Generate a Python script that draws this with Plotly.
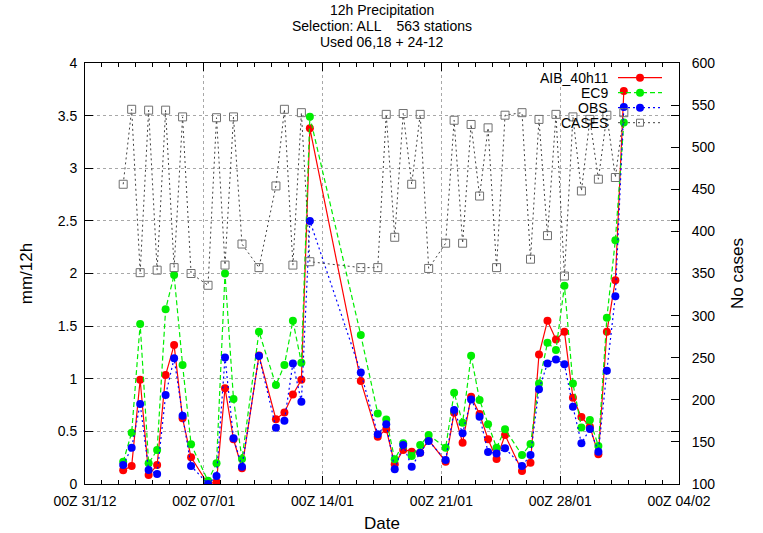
import plotly.graph_objects as go

# ---------------- data ----------------
times = [
    "2008-01-02 06:00", "2008-01-02 18:00", "2008-01-03 06:00", "2008-01-03 18:00",
    "2008-01-04 06:00", "2008-01-04 18:00", "2008-01-05 06:00", "2008-01-05 18:00",
    "2008-01-06 06:00", "2008-01-07 06:00", "2008-01-07 18:00", "2008-01-08 06:00",
    "2008-01-08 18:00", "2008-01-09 06:00", "2008-01-10 06:00", "2008-01-11 06:00",
    "2008-01-11 18:00", "2008-01-12 06:00", "2008-01-12 18:00", "2008-01-13 06:00",
    "2008-01-16 06:00", "2008-01-17 06:00", "2008-01-17 18:00", "2008-01-18 06:00",
    "2008-01-18 18:00", "2008-01-19 06:00", "2008-01-19 18:00", "2008-01-20 06:00",
    "2008-01-21 06:00", "2008-01-21 18:00", "2008-01-22 06:00", "2008-01-22 18:00",
    "2008-01-23 06:00", "2008-01-23 18:00", "2008-01-24 06:00", "2008-01-24 18:00",
    "2008-01-25 18:00", "2008-01-26 06:00", "2008-01-26 18:00", "2008-01-27 06:00",
    "2008-01-27 18:00", "2008-01-28 06:00", "2008-01-28 18:00", "2008-01-29 06:00",
    "2008-01-29 18:00", "2008-01-30 06:00", "2008-01-30 18:00", "2008-01-31 06:00",
    "2008-01-31 18:00",
]

aib_40h11 = [0.13, 0.17, 0.99, 0.085, 0.18, 1.035, 1.32, 0.624, 0.254,
             0.0, 0.02, 0.91, 0.425, 0.15, 1.22, 0.615, 0.68, 0.85, 0.99, 3.38,
             0.978, 0.45, 0.52, 0.187, 0.323, 0.307, 0.298, 0.418,
             0.212, 0.677, 0.392, 0.83, 0.665, 0.425, 0.237, 0.465,
             0.123, 0.202, 1.23, 1.55, 1.374, 1.446, 0.82, 0.636, 0.545, 0.282,
             1.446, 1.937, 3.735]

ec9 = [0.212, 0.488, 1.52, 0.197, 0.323, 1.66, 1.985, 1.13, 0.377,
       0.03, 0.197, 2.0, 0.807, 0.237, 1.446, 0.94, 1.13, 1.55, 1.152, 3.49,
       1.415, 0.671, 0.614, 0.234, 0.386, 0.266, 0.37, 0.465,
       0.345, 0.867, 0.582, 1.218, 0.798, 0.567, 0.345, 0.52,
       0.275, 0.38, 0.956, 1.342, 1.273, 1.883, 0.956, 0.538, 0.608, 0.361,
       1.58, 2.317, 3.435]

obs = [0.18, 0.345, 0.76, 0.133, 0.095, 0.845, 1.194, 0.649, 0.171,
       0.0, 0.076, 1.203, 0.434, 0.165, 1.216, 0.535, 0.6, 1.146, 0.782, 2.5,
       1.06, 0.472, 0.567, 0.139, 0.37, 0.165, 0.298, 0.408,
       0.228, 0.703, 0.481, 0.804, 0.64, 0.303, 0.29, 0.339,
       0.171, 0.275, 0.9, 1.146, 1.184, 1.137, 0.734, 0.386, 0.522, 0.307,
       1.076, 1.785, 3.583]

cases = [456, 545, 351, 544, 354, 544, 357, 536, 350,
         336, 535, 360, 536, 385, 357, 454, 545, 360, 541, 364,
         357, 357, 539, 393, 540, 456, 539, 356,
         386, 532, 386, 527, 442, 523, 357, 538,
         541, 367, 533, 395, 539, 347, 536, 448, 533, 462, 538, 464, 541]

series_names = ["AIB_40h11", "EC9", "OBS", "CASES"]
title_lines = ["12h Precipitation", "Selection: ALL    563 stations", "Used 06,18 + 24-12"]
x_start, x_end = "2007-12-31", "2008-02-04"

# ---------------- styles ----------------
FONT = "Liberation Sans, Arial, Helvetica, sans-serif"
RED, GREEN, BLUE, GREY = "#ff0000", "#00ee00", "#0000ff", "#404040"
DASH_EC9 = "5px,3px"
DASH_OBS = "2px,3px"
DASH_CASES = "2px,3px"

fig = go.Figure()
fig.add_trace(go.Scatter(x=times, y=aib_40h11, name=series_names[0], mode="lines+markers",
                         line=dict(color=RED, width=1.2),
                         marker=dict(symbol="circle", size=8, color=RED, line=dict(width=0))))
fig.add_trace(go.Scatter(x=times, y=ec9, name=series_names[1], mode="lines+markers",
                         line=dict(color=GREEN, width=1.2, dash=DASH_EC9),
                         marker=dict(symbol="circle", size=8, color=GREEN, line=dict(width=0))))
fig.add_trace(go.Scatter(x=times, y=obs, name=series_names[2], mode="lines+markers",
                         line=dict(color=BLUE, width=1.2, dash=DASH_OBS),
                         marker=dict(symbol="circle", size=8, color=BLUE, line=dict(width=0))))
fig.add_trace(go.Scatter(x=times, y=cases, name=series_names[3], mode="lines+markers", yaxis="y2",
                         line=dict(color=GREY, width=1, dash=DASH_CASES),
                         marker=dict(symbol="square-open", size=8, color="#707070",
                                     line=dict(width=1, color="#707070"))))

# ---------------- layout helpers ----------------
L, R, T, B = 85, 84, 63, 49
W, H = 763, 533
pw, ph = W - L - R, H - T - B


def px_to_py(ypx):
    return (H - B - ypx) / ph


# manual gnuplot-style legend (text right-aligned, sample to the right)
txt_x = (610 - L) / pw
s0, s1, sm = (618 - L) / pw, (662 - L) / pw, (640 - L) / pw
rows = [77.7, 92.7, 107.7, 122.7]
leg_styles = [(RED, "solid", "circle"), (GREEN, DASH_EC9, "circle"),
              (BLUE, DASH_OBS, "circle"), (GREY, DASH_CASES, "square")]
annotations = []
shapes = []
for name, ypx, (col, dsh, sym) in zip(series_names, rows, leg_styles):
    yp = px_to_py(ypx)
    annotations.append(dict(x=txt_x, y=yp, xref="paper", yref="paper", text=name,
                            showarrow=False, xanchor="right", yanchor="middle",
                            font=dict(size=14, family=FONT, color="black")))
    shapes.append(dict(type="line", xref="paper", yref="paper", x0=s0, x1=s1, y0=yp, y1=yp,
                       line=dict(color=col, width=1.2 if sym == "circle" else 1, dash=dsh)))
    if sym == "circle":
        shapes.append(dict(type="circle", xref="paper", yref="paper", xsizemode="pixel",
                           ysizemode="pixel", xanchor=sm, yanchor=yp, x0=-4, x1=4, y0=-4, y1=4,
                           fillcolor=col, line=dict(width=0)))
    else:
        shapes.append(dict(type="rect", xref="paper", yref="paper", xsizemode="pixel",
                           ysizemode="pixel", xanchor=sm, yanchor=yp, x0=-3.5, x1=3.5,
                           y0=-3.5, y1=3.5, fillcolor="rgba(0,0,0,0)",
                           line=dict(width=1, color="#707070")))

# title, one annotation per line (gnuplot line spacing)
for line, ypx in zip(title_lines, [10, 26, 42]):
    annotations.append(dict(x=0.5, y=px_to_py(ypx), xref="paper", yref="paper", text=line,
                            showarrow=False, xanchor="center", yanchor="middle",
                            font=dict(size=14, family=FONT, color="black")))

fig.update_layout(
    width=W, height=H,
    margin=dict(l=L, r=R, t=T, b=B, pad=0, autoexpand=False),
    paper_bgcolor="white", plot_bgcolor="white",
    font=dict(family=FONT, size=14, color="black"),
    showlegend=False,
    xaxis=dict(type="date", range=[x_start, x_end], tick0=x_start, dtick=7 * 86400000,
               tickformat="00Z %d/%m", ticks="inside", ticklen=8, tickcolor="black",
               showline=True, linecolor="black", linewidth=1, mirror="ticks",
               showgrid=True, gridcolor="#a8a8a8", griddash="dot", gridwidth=1,
               minor=dict(dtick=86400000, ticks="inside", ticklen=4, tickcolor="black",
                          showgrid=False),
               ticklabelstandoff=4, automargin=False,
               title=dict(text="Date", standoff=14), zeroline=False),
    yaxis=dict(range=[0, 4], dtick=0.5, ticks="inside", ticklen=8, tickcolor="black",
               showline=True, linecolor="black", linewidth=1, mirror="ticks",
               showgrid=True, gridcolor="#a8a8a8", griddash="dot", gridwidth=1,
               zeroline=False, ticklabelstandoff=4, automargin=False,
               title=dict(text="mm/12h", standoff=20)),
    yaxis2=dict(range=[100, 600], dtick=50, overlaying="y", side="right",
                ticks="inside", ticklen=8, tickcolor="black", showline=True,
                linecolor="black", showgrid=False, zeroline=False, ticklabelstandoff=9,
                automargin=False, title=dict(text="No cases", standoff=16)),
    annotations=annotations,
    shapes=shapes,
)

fig.write_html("out.html")
